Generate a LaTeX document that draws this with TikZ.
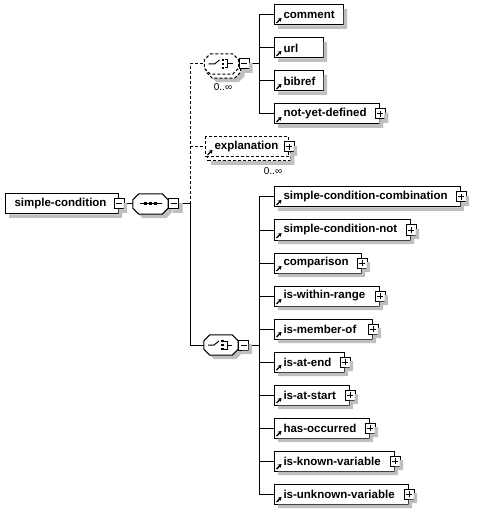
\documentclass[tikz,border=0pt]{standalone}
\usepackage{fontspec}
\setmainfont{Liberation Sans}
\usetikzlibrary{shadows, arrows.meta}

\colorlet{shadowgray}{black!25}
\newcommand\octpath[1]{([xshift=6pt]#1.north west) -- ([xshift=-6pt]#1.north east)
  -- ([yshift=-6pt]#1.north east) -- ([yshift=6pt]#1.south east)
  -- ([xshift=-6pt]#1.south east) -- ([xshift=6pt]#1.south west)
  -- ([yshift=6pt]#1.south west) -- ([yshift=-6pt]#1.north west) -- cycle}
% shadow strips right of and below a box: left, right, top, bottom
\newcommand\shadowL[4]{\fill[drop] ({#2+0.5},{#3+4}) rectangle ({#2+4},{#4+4})
  ({#1+4},{#4+0.5}) rectangle ({#2+4},{#4+4});}

\tikzset{
  wire/.style={line width=1pt},
  optline/.style={dash pattern=on 3pt off 2pt},
  optwire/.style={wire, optline},
  drop/.style={fill=shadowgray},
  box/.style={draw, fill=white, line width=1pt, anchor=west, inner sep=0pt,
    minimum height=20pt, font=\bfseries\fontsize{11.5}{13}\selectfont,
    execute at begin node={\hbox to #1\bgroup\hskip 9pt},
    execute at end node={\hfil\egroup},
    path picture={\draw[solid, line width=1.4pt, -{Stealth[length=3.5pt, width=4.5pt]}]
      ([shift={(2pt,2pt)}]path picture bounding box.south west) -- ++(5pt,5pt);}},
  elem/.style={box=#1},
  root/.style={box=#1, path picture={}},
  opt/.style={box=#1, optline,
    copy shadow={shadow xshift=2pt, shadow yshift=-4pt, draw, fill=white, optline}},
  octa/.style={minimum width=34pt, minimum height=20pt, inner sep=0pt},
  octline/.style={draw, fill=white, line width=1pt},
  seqicon/.pic={
    \draw[line width=1pt] (-11,0) -- (11,0);
    \foreach \k in {-5,0,5} \fill ({\k-1.5},-1.5) rectangle ++(3,3);
  },
  choiceicon/.pic={
    \draw[line width=1pt] (-13,0) -- (-7,0) -- (-2,-4);
    \foreach \k in {-4,0,4} \fill (0,{\k-1.2}) rectangle ++(2.5,2.5);
    \draw[line width=1pt] (3,-4) -- (6,-4) -- (6,4) -- (3,4) (6,0) -- (11,0);
  },
  pbox/.style={draw, fill=white, line width=1pt, minimum size=10pt, inner sep=0pt},
  minusbox/.style={pbox, path picture={\draw[line width=1pt]
    ([xshift=-3pt]path picture bounding box.center) -- ++(6pt,0pt);}},
  plusbox/.style={pbox, path picture={\draw[line width=1pt]
    ([xshift=-3pt]path picture bounding box.center) -- ++(6pt,0pt)
    ([yshift=-3pt]path picture bounding box.center) -- ++(0pt,6pt);}},
  card/.style={font=\fontsize{10}{11}\selectfont, inner sep=0pt}
}

\begin{document}
\begin{tikzpicture}[x=1pt, y=-1pt]
  \useasboundingbox (0,0) rectangle (480,510);

  % root and sequence
  \node[root=113pt] (sc) at (5,204) {simple-condition};
  \node[minusbox] (sc-m) at (sc.east) {};
  \node[octa, minimum width=35pt] (seq) at (150.5,204) {};
  \fill[drop, transform canvas={shift={(4pt,-4pt)}}] \octpath{seq};
  \path[octline] \octpath{seq};
  \pic at (seq) {seqicon};
  \node[minusbox, anchor=west] (seq-m) at (seq.east) {};
  \coordinate (t1) at (190,204);

  % optional choice
  \node[octa] (ch1) at (221.5,64) {};
  \fill[drop, transform canvas={shift={(6pt,-8pt)}}] \octpath{ch1};
  \path[octline, optline, transform canvas={shift={(2pt,-4pt)}}] \octpath{ch1};
  \path[octline, optline] \octpath{ch1};
  \pic at (ch1) {choiceicon};
  \node[minusbox, anchor=west] (ch1-m) at (ch1.east) {};
  \node[card] (ch1-n) at (223,87) {0..∞};
  \coordinate (t0) at (259,64);
  \foreach \nm/\txt/\w [count=\i from 0] in {cmt/comment/69pt, url/url/49pt, bib/bibref/49pt}
  {
    \node[elem=\w] (\nm) at (274,{15+33*\i}) {\txt};
    \draw[wire] (t0 |- \nm.west) -- (\nm.west);
  }
  \node[elem=105pt] (nyd) at (274,114) {not-yet-defined};
  \node[plusbox] (nyd-p) at (nyd.east) {};
  \draw[wire] (t0 |- nyd.west) -- (nyd.west);
  \draw[wire] (ch1-m) -- (t0);
  \draw[wire] (t0 |- cmt.west) -- (t0 |- nyd.west);

  % explanation
  \node[opt=83pt] (expl) at (205,147) {explanation};
  \node[plusbox] (expl-p) at (expl.east) {};
  \node[card] (expl-n) at (273,171) {0..∞};

  % condition choice
  \node[octa] (ch2) at (221,345) {};
  \fill[drop, transform canvas={shift={(4pt,-4pt)}}] \octpath{ch2};
  \path[octline] \octpath{ch2};
  \pic at (ch2) {choiceicon};
  \node[minusbox, anchor=west] (ch2-m) at (ch2.east) {};
  \coordinate (t2) at (259,345);
  \foreach \nm/\txt/\w [count=\i from 0] in {
      scc/simple-condition-combination/186pt,
      scn/simple-condition-not/136pt,
      cmp/comparison/87pt,
      iwr/is-within-range/105pt,
      imo/is-member-of/98pt,
      iae/is-at-end/70pt,
      ias/is-at-start/75pt,
      hoc/has-occurred/95pt,
      ikv/is-known-variable/120pt,
      iuv/is-unknown-variable/134pt}
  {
    \node[elem=\w] (\nm) at (274,{197+33*\i}) {\txt};
    \node[plusbox] (\nm-p) at (\nm.east) {};
    \draw[wire] (t2 |- \nm.west) -- (\nm.west);
  }
  \draw[wire] (ch2-m) -- (t2);
  \draw[wire] (t2 |- scc.west) -- (t2 |- iuv.west);

  % links
  \draw[wire] (sc-m) -- (seq);
  \draw[wire] (seq-m) -- (t1) |- (ch2);
  \draw[optwire] (t1) |- (ch1);
  \draw[optwire] (t1 |- expl.west) -- (expl);

  % box shadows
  \shadowL{5}{118}{209}{214}
  \shadowL{114.5}{123}{199}{209}
  \shadowL{168.5}{178.5}{199}{209}
  \shadowL{238.5}{248.5}{59}{69}
  \shadowL{238}{248}{340}{350}
  \foreach \w [count=\i from 0] in {69,49,49}
    \shadowL{274}{274+\w}{5+33*\i}{25+33*\i}
  \shadowL{274}{379}{119}{124}
  \shadowL{375.5}{384}{109}{119}
  \fill[drop] (290.5,152.5) rectangle (294,165) (211,161.5) rectangle (294,165);
  \shadowL{289.5}{293}{142}{152}
  \foreach \w [count=\i from 0] in {186,136,87,105,98,70,75,95,120,134}
  {
    \shadowL{274}{274+\w}{202+33*\i}{207+33*\i}
    \shadowL{270.5+\w}{279+\w}{192+33*\i}{202+33*\i}
  }
\end{tikzpicture}
\end{document}
